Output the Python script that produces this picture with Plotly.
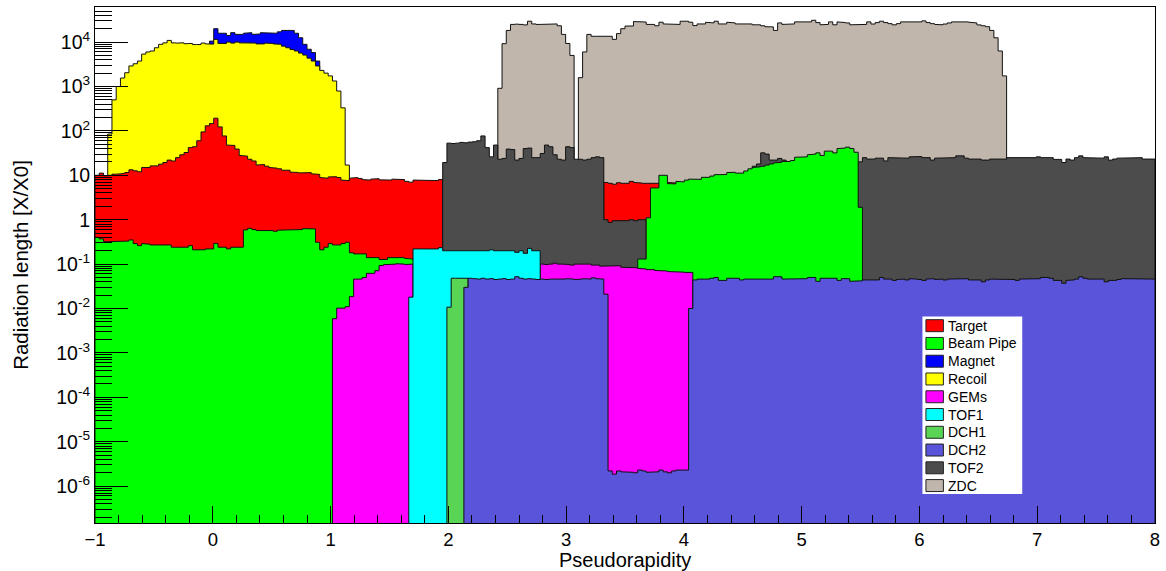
import plotly.graph_objects as go

# ---------------- histogram binning ----------------
bin_lo = -1.0
bin_width = 0.036
n_bins = 250

# ---------------- data (radiation length per eta bin) ----------------
# Each segment: start bin index + list of bin contents
target_start_1 = 0
target_vals_1 = [10, 11.2, 9.7, 10, 10.6, 10.6, 11, 11.5, 13.3, 12.6, 12, 15, 15, 16.3, 16.3, 17.8,
                 19.4, 22, 21, 25, 29, 32.6, 42, 44, 60, 95, 130, 146, 193, 123, 77, 48, 47, 39,
                 28, 27, 23, 21, 17, 17.5, 16, 15, 14.5, 14, 13, 13, 11.8, 11.6, 11.3, 11.2, 11.5,
                 10.8, 10.5, 8.9, 8.6, 9.2, 9.3, 8.9, 7.8, 7.6, 8.6, 8.9, 8.5, 8.0, 7.8, 8.2, 8.4,
                 7.9, 7.6, 7.8, 8.2, 8.2, 8.0, 7.3, 7.0, 7.8, 7.6, 7.8, 7.9, 7.6, 7.6, 8.0]
target_start_2 = 120
target_vals_2 = [6.9, 6.6, 6.3, 6.8, 6.6, 6.6, 7.3, 6.9, 6.7, 6.6, 6.5, 6.5, 6.4, 6.5, 6.6, 6.9, 6.7]

beampipe_start_1 = 0
beampipe_vals_1 = [0.40, 0.37, 0.32, 0.32, 0.32, 0.32, 0.32, 0.33, 0.35, 0.29, 0.26, 0.29, 0.28, 0.27,
                   0.27, 0.26, 0.26, 0.27, 0.24, 0.245, 0.245, 0.24, 0.26, 0.21, 0.21, 0.21, 0.22,
                   0.22, 0.29, 0.24, 0.24, 0.22, 0.24, 0.24, 0.24,
                   0.59, 0.64, 0.60, 0.57, 0.58, 0.57, 0.57, 0.55, 0.58, 0.58, 0.58, 0.58, 0.60,
                   0.60, 0.63, 0.63, 0.62,
                   0.31, 0.21, 0.24, 0.29, 0.27, 0.27, 0.29, 0.31, 0.18, 0.17, 0.17, 0.17, 0.14,
                   0.14, 0.14, 0.127, 0.127,
                   0.14, 0.145, 0.145, 0.14, 0.135, 0.13, 0.12, 0.12, 0.12, 0.12, 0.12, 0.12, 0.12]
beampipe_start_2 = 128
beampipe_vals_2 = [0.13, 0.13, 1.1, 5.2, 5.2, 10, 10, 6.5, 6.4, 7.3, 7.1, 7.8, 8.2, 8.2, 8.1, 9.0,
                   9.0, 9.6, 10.3, 10.2, 10.4, 11.5, 11.7, 11.2, 11.2, 12.5, 14, 15, 15.5, 16, 17,
                   18, 19, 19.6, 20.5, 20.5, 21.5, 25.5, 26, 26, 29, 30, 32, 28, 35, 35, 32, 40,
                   41, 43, 40, 33, 1.9]

magnet_start = 27
magnet_vals = [10500, 20000, 15800, 15800, 14100, 16300, 14900, 14900, 15800, 16300, 14900, 15200,
               16300, 15800, 16300, 15800, 17000, 18300, 18300, 18300, 15800, 12500, 8900, 6900,
               5800, 3740]

recoil_start = 3
recoil_vals = [85, 500, 1000, 1550, 2040, 2900, 3250, 3740, 5370, 6000, 6300, 7450, 8900, 9600,
               10900, 9600, 9500, 9600, 9200, 9300, 8800, 8800, 9500, 9100, 9000, 11500, 9300,
               9300, 10000, 9500, 10000, 9600, 9500, 9600, 9500, 9100, 9100, 9500, 9300, 9100,
               8900, 8100, 7450, 6800, 6300, 5650, 5100, 4350, 3740, 2900, 2300, 2000, 1730,
               1330, 790, 330, 17]

gems_start_1 = 56
gems_vals_1 = [0.0059, 0.0102, 0.0102, 0.011, 0.0186, 0.046, 0.046, 0.05, 0.062, 0.062, 0.071,
               0.093, 0.097, 0.1, 0.1, 0.102, 0.1, 0.098, 0.1]
gems_start_2 = 105
gems_vals_2 = [0.1, 0.098, 0.1, 0.105, 0.1, 0.1, 0.098, 0.095, 0.1, 0.1, 0.098, 0.1, 0.095, 0.095,
               0.09, 0.092, 0.09, 0.09, 0.092, 0.085, 0.083, 0.085, 0.083, 0.08, 0.078, 0.075,
               0.075, 0.072, 0.07, 0.07, 0.068, 0.068, 0.066, 0.066, 0.065, 0.065]

tof1_start = 74
tof1_vals = [0.018, 0.22, 0.22, 0.22, 0.22, 0.22, 0.22, 0.235, 0.2, 0.2, 0.2, 0.2, 0.2, 0.205, 0.2,
             0.2, 0.2, 0.205, 0.2, 0.21, 0.2, 0.2, 0.2, 0.2, 0.2, 0.184, 0.2, 0.175, 0.226, 0.2, 0.2]

dch1_start = 83
dch1_vals = [0.0107, 0.048, 0.048, 0.048, 0.048]

dch2_start = 87
dch2_vals = [0.03,
             0.048, 0.047, 0.046, 0.048, 0.046, 0.047, 0.045, 0.046, 0.047, 0.045, 0.046, 0.052,
             0.048, 0.046, 0.047, 0.046, 0.045, 0.046, 0.045, 0.046, 0.046, 0.045, 0.046, 0.047,
             0.046, 0.045, 0.046, 0.047, 0.046, 0.049, 0.047, 0.046,
             0.021,
             2.2e-6, 1.86e-6, 2.2e-6, 2.1e-6, 2.1e-6, 2.05e-6, 2.0e-6, 2.3e-6, 2.2e-6, 2.05e-6,
             2.05e-6, 2.1e-6, 2.3e-6, 2.1e-6, 2.0e-6, 2.2e-6, 2.3e-6, 2.3e-6, 2.3e-6,
             0.01,
             0.044, 0.046, 0.046, 0.046, 0.048, 0.05, 0.043, 0.043, 0.048, 0.048, 0.048, 0.044,
             0.046, 0.046, 0.046, 0.046, 0.046, 0.046, 0.046, 0.052, 0.052, 0.046, 0.046, 0.046,
             0.047, 0.047, 0.047, 0.05, 0.05, 0.041, 0.048, 0.048, 0.048, 0.048, 0.043, 0.047,
             0.047, 0.041, 0.041, 0.042, 0.044, 0.044, 0.044, 0.044, 0.05, 0.046, 0.046, 0.043,
             0.045, 0.046, 0.044, 0.047, 0.046, 0.045, 0.043, 0.046, 0.047, 0.045, 0.046, 0.044,
             0.046, 0.046, 0.046, 0.046, 0.047, 0.044, 0.044, 0.044, 0.040, 0.044, 0.046, 0.046,
             0.046, 0.046, 0.045, 0.045, 0.043, 0.046, 0.047, 0.047, 0.047, 0.047, 0.050, 0.050,
             0.048, 0.043, 0.043, 0.037, 0.043, 0.044, 0.046, 0.052, 0.048, 0.046, 0.046, 0.046,
             0.046, 0.040, 0.043, 0.043, 0.045, 0.047, 0.047, 0.047, 0.047, 0.047, 0.046, 0.046,
             0.046]

tof2_start_1 = 82
tof2_vals_1 = [19.4, 53, 52, 53, 55, 54, 56, 57, 60, 77, 42, 26, 48, 23, 24, 39, 38, 22, 24, 40, 41,
               25, 25, 31, 48, 44, 29, 23, 22, 44, 42, 23, 23, 22, 23, 25, 26, 25,
               1.0, 0.87, 0.95, 0.95, 0.97, 0.95, 1.0, 0.95, 1.0, 1.0]
tof2_start_2 = 155
tof2_vals_2 = [16, 18, 32, 30, 22, 22, 24, 22, 20,
               19, 19, 20, 20, 20, 20, 21, 20, 20, 21, 20, 21, 21, 20, 20, 20,
               20.1, 25, 23.2, 23.2, 24.3, 24.3, 21.1, 25, 24.3, 24.3, 24.3, 24.3, 26, 26, 26.5,
               25, 25, 22, 24.3, 24.3, 24.3,
               25, 25, 27.4, 27.4, 24.3, 23.2, 23.2, 23.2, 22, 22, 23.2, 23.2, 23.2, 23.2, 25,
               24.3, 24.3, 25, 25, 25, 25, 26, 25, 25, 25, 22.8, 22.8, 19.4, 23.2, 22, 25, 27.4,
               25, 25, 24.3, 24.3, 24.3, 26, 22, 23.2, 24.3, 25, 25, 25, 25, 25, 23.2, 23.2, 23.2]

zdc_start_1 = 95
zdc_vals_1 = [910, 9200, 18300, 25000, 25300, 25000, 24400, 29500, 25600, 25000, 25000, 25000,
              25000, 25600, 23300, 14900, 9300, 5000]
zdc_start_2 = 114
zdc_vals_2 = [1580, 6000, 14900, 13500, 13500, 13000, 13000, 13500, 11500, 15500, 20000, 23000,
              23000, 29000, 28300, 28300, 25000, 25000, 23300, 28000, 25600, 25600, 25000, 25000,
              29500, 29500, 28000, 23500, 25600, 25600, 28000, 27000, 29500, 25600, 25600, 28000,
              27000, 25600, 25600, 25600, 25600, 24500, 24500, 23300, 22200, 22000, 18300, 27000,
              25000, 25000, 25600, 28500, 29500, 29000, 28500, 31000, 27500, 24500, 25000, 28500,
              24500, 28500, 27500, 27000, 24500, 24500, 24500, 25000, 28500, 25500, 27500, 29500,
              27500, 26000, 24500, 26000, 28500, 27500, 28500, 28500, 28500, 30000, 27500, 26000,
              25000, 24500, 25500, 27000,
              28500, 29500, 29000, 28500, 28000, 27000, 24400, 23300, 22200, 18300, 12500, 6300,
              1730]

legend_names = ["Target", "Beam Pipe", "Magnet", "Recoil", "GEMs", "TOF1", "DCH1", "DCH2",
                "TOF2", "ZDC"]

# ---------------- styles ----------------
COL = {
    "Target": "#ff0000", "Beam Pipe": "#00ff00", "Magnet": "#0000ff", "Recoil": "#ffff00",
    "GEMs": "#ff00ff", "TOF1": "#00ffff", "DCH1": "#59d454", "DCH2": "#5954d9",
    "TOF2": "#4c4c4c", "ZDC": "#c0b6ac",
}
FLOOR = 1e-9

# drawing order back -> front
layers = [
    ("ZDC", [(zdc_start_1, zdc_vals_1), (zdc_start_2, zdc_vals_2)]),
    ("Magnet", [(magnet_start, magnet_vals)]),
    ("Recoil", [(recoil_start, recoil_vals)]),
    ("Target", [(target_start_1, target_vals_1), (target_start_2, target_vals_2)]),
    ("TOF2", [(tof2_start_1, tof2_vals_1), (tof2_start_2, tof2_vals_2)]),
    ("Beam Pipe", [(beampipe_start_1, beampipe_vals_1), (beampipe_start_2, beampipe_vals_2)]),
    ("GEMs", [(gems_start_1, gems_vals_1), (gems_start_2, gems_vals_2)]),
    ("TOF1", [(tof1_start, tof1_vals)]),
    ("DCH1", [(dch1_start, dch1_vals)]),
    ("DCH2", [(dch2_start, dch2_vals)]),
]


def step_polygon(start, vals):
    xs, ys = [bin_lo + start * bin_width], [FLOOR]
    b = xs[0]
    for i, v in enumerate(vals):
        a = bin_lo + (start + i) * bin_width
        b = a + bin_width
        vv = v if v > 0 else FLOOR
        xs += [a, b]
        ys += [vv, vv]
    xs.append(b)
    ys.append(FLOOR)
    return xs, ys


fig = go.Figure()
for name, segs in layers:
    for start, vals in segs:
        xs, ys = step_polygon(start, vals)
        fig.add_trace(go.Scatter(
            x=xs, y=ys, mode="lines", fill="toself", fillcolor=COL[name],
            line=dict(color="#111111", width=1), name=name, showlegend=False,
            hoverinfo="skip"))

# ---------------- layout ----------------
W, H = 1166, 571
PL, PR, PT, PB = 95, 1157, 6, 523
FONT = "Liberation Sans, Arial, Helvetica, sans-serif"

y_major = [1e-6, 1e-5, 1e-4, 1e-3, 1e-2, 1e-1, 1, 10, 100, 1000, 10000]
y_text = ["10<sup>-6</sup>", "10<sup>-5</sup>", "10<sup>-4</sup>", "10<sup>-3</sup>",
          "10<sup>-2</sup>", "10<sup>-1</sup>", "1", "10", "10<sup>2</sup>",
          "10<sup>3</sup>", "10<sup>4</sup>"]
y_minor = [m * 10.0 ** e for e in range(-7, 5) for m in range(2, 10)]

fig.update_layout(
    width=W, height=H,
    margin=dict(l=PL, r=W - PR, t=PT, b=H - PB),
    paper_bgcolor="white", plot_bgcolor="white",
    font=dict(family=FONT, color="black"),
    showlegend=False,
    xaxis=dict(
        range=[-1, 8], tickmode="linear", tick0=-1, dtick=1,
        ticks="inside", ticklen=17, tickwidth=1, tickcolor="black",
        minor=dict(ticks="inside", dtick=0.2, ticklen=8, tickwidth=1, tickcolor="black"),
        showline=True, linecolor="black", linewidth=1, mirror=True,
        showgrid=False, zeroline=False,
        tickfont=dict(size=18.5, family=FONT),
    ),
    yaxis=dict(
        type="log", range=[-6.83, 4.79],
        tickmode="array", tickvals=y_major, ticktext=y_text,
        ticks="inside", ticklen=33, tickwidth=1, tickcolor="black",
        minor=dict(ticks="inside", tickmode="array", tickvals=y_minor, ticklen=17,
                   tickwidth=1, tickcolor="black"),
        showline=True, linecolor="black", linewidth=1, mirror=True,
        showgrid=False, zeroline=False,
        tickfont=dict(size=19.5, family=FONT),
        title=dict(text="Radiation length [X/X0]", font=dict(size=20.5, family=FONT), standoff=22),
    ),
)

# ---------------- manual legend (ROOT TLegend look) ----------------
def px_x(px):
    return (px - PL) / (PR - PL)


def px_y(py):
    return (PB - py) / (PB - PT)


shapes = [dict(type="rect", xref="paper", yref="paper",
               x0=px_x(924), x1=px_x(1024), y0=px_y(494), y1=px_y(316),
               fillcolor="white", line=dict(width=0), layer="above")]
annotations = [dict(xref="paper", yref="paper", x=px_x(626), y=px_y(560),
                    text="Pseudorapidity", showarrow=False, xanchor="center",
                    yanchor="middle", font=dict(size=20, family=FONT, color="black"))]
for i, name in enumerate(legend_names):
    cy = 325.3 + 17.8 * i
    shapes.append(dict(type="rect", xref="paper", yref="paper",
                       x0=px_x(927.5), x1=px_x(945), y0=px_y(cy + 6), y1=px_y(cy - 6),
                       fillcolor=COL[name], line=dict(color="#222222", width=1), layer="above"))
    annotations.append(dict(xref="paper", yref="paper", x=px_x(948), y=px_y(cy),
                            text=name, showarrow=False, xanchor="left", yanchor="middle",
                            font=dict(size=14, family=FONT, color="black")))
fig.update_layout(shapes=shapes, annotations=annotations)

fig.write_html("out.html")
